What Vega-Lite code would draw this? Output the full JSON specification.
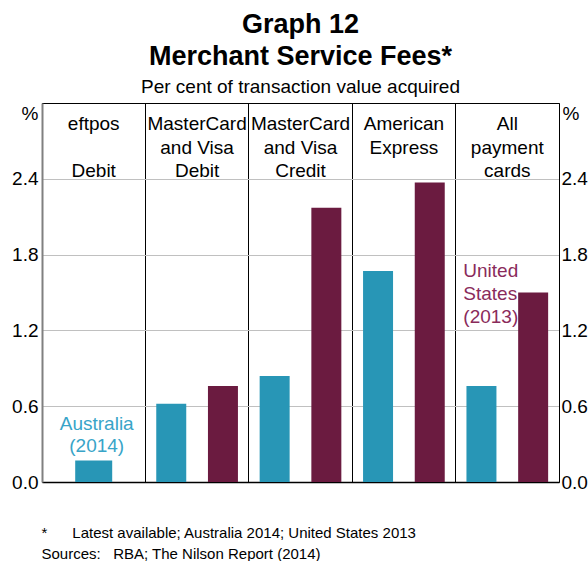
{
  "$schema": "https://vega.github.io/schema/vega-lite/v6.json",
  "width": 517,
  "height": 379,
  "autosize": {"type": "none"},
  "padding": {"left": 42, "top": 103, "right": 29, "bottom": 79},
  "background": "white",
  "config": {"font": "Liberation Sans", "view": {"stroke": "black", "strokeWidth": 1}},
  "title": {
    "text": ["Graph 12", "Merchant Service Fees*"],
    "subtitle": "Per cent of transaction value acquired",
    "fontSize": 27,
    "fontWeight": "bold",
    "lineHeight": 32,
    "color": "black",
    "subtitleFontSize": 19,
    "subtitleColor": "black",
    "subtitlePadding": 7,
    "anchor": "middle",
    "offset": 5,
    "font": "Liberation Sans",
    "subtitleFont": "Liberation Sans"
  },
  "datasets": {
    "fees": [
      {"card": "eftpos Debit", "country": "Australia", "value": 0.17},
      {"card": "MasterCard and Visa Debit", "country": "Australia", "value": 0.62},
      {"card": "MasterCard and Visa Debit", "country": "United States", "value": 0.76},
      {"card": "MasterCard and Visa Credit", "country": "Australia", "value": 0.84},
      {"card": "MasterCard and Visa Credit", "country": "United States", "value": 2.17},
      {"card": "American Express", "country": "Australia", "value": 1.67},
      {"card": "American Express", "country": "United States", "value": 2.37},
      {"card": "All payment cards", "country": "Australia", "value": 0.76},
      {"card": "All payment cards", "country": "United States", "value": 1.5}
    ],
    "headers": [
      {"card": "eftpos Debit", "header": "eftpos\nDebit"},
      {"card": "MasterCard and Visa Debit", "header": "MasterCard\nand Visa\nDebit"},
      {"card": "MasterCard and Visa Credit", "header": "MasterCard\nand Visa\nCredit"},
      {"card": "American Express", "header": "American\nExpress"},
      {"card": "All payment cards", "header": "All\npayment\ncards"}
    ]
  },
  "data": {"name": "fees"},
  "encoding": {
    "x": {
      "field": "card",
      "type": "nominal",
      "scale": {
        "domain": ["eftpos Debit", "MasterCard and Visa Debit", "MasterCard and Visa Credit", "American Express", "All payment cards"],
        "paddingInner": 0,
        "paddingOuter": 0
      },
      "axis": {
        "labels": false,
        "ticks": false,
        "domain": true,
        "domainColor": "black",
        "domainWidth": 1.5,
        "grid": true,
        "gridColor": "black",
        "gridWidth": 1,
        "bandPosition": 0,
        "title": ["*\u00a0\u00a0\u00a0\u00a0\u00a0\u00a0Latest available; Australia 2014; United States 2013", "Sources:\u00a0\u00a0\u00a0RBA; The Nilson Report (2014)"],
        "titleFontSize": 15,
        "titleFontWeight": "normal",
        "titleColor": "black",
        "titleAnchor": "start",
        "titleAlign": "left",
        "titleX": -1,
        "titleY": 55,
        "titleBaseline": "alphabetic",
        "titleLineHeight": 21
      }
    }
  },
  "layer": [
    {
      "transform": [{"filter": "datum.card != 'eftpos Debit'"}],
      "mark": {"type": "bar"},
      "encoding": {
        "y": {
          "field": "value",
          "type": "quantitative",
          "scale": {"domain": [0, 3], "nice": false, "zero": true},
          "axis": {
            "orient": "left",
            "values": [0, 0.6, 1.2, 1.8, 2.4],
            "format": ".1f",
            "labelFontSize": 19,
            "labelColor": "black",
            "ticks": false,
            "labelPadding": 4,
            "domainColor": "#808080",
            "domainWidth": 2,
            "grid": true,
            "gridColor": "#c0c0c0",
            "gridWidth": 1,
            "title": "%",
            "titleAngle": 0,
            "titleFontSize": 19,
            "titleFontWeight": "normal",
            "titleColor": "black",
            "titleX": -4,
            "titleY": 16,
            "titleAlign": "right",
            "titleBaseline": "alphabetic"
          }
        },
        "xOffset": {
          "field": "country",
          "type": "nominal",
          "scale": {"domain": ["Australia", "United States"], "paddingInner": 0.42, "paddingOuter": 0.21}
        },
        "color": {
          "field": "country",
          "type": "nominal",
          "scale": {"domain": ["Australia", "United States"], "range": ["#2896b6", "#6b1b40"]},
          "legend": null
        }
      }
    },
    {
      "transform": [{"filter": "datum.card == 'eftpos Debit'"}],
      "mark": {"type": "bar", "width": 37},
      "encoding": {
        "y": {
          "field": "value",
          "type": "quantitative",
          "axis": {
            "orient": "right",
            "values": [0, 0.6, 1.2, 1.8, 2.4],
            "format": ".1f",
            "labelFontSize": 19,
            "labelColor": "black",
            "ticks": false,
            "labelPadding": 2,
            "domainColor": "black",
            "domainWidth": 1,
            "grid": false,
            "title": "%",
            "titleAngle": 0,
            "titleFontSize": 19,
            "titleFontWeight": "normal",
            "titleColor": "black",
            "titleX": 3,
            "titleY": 16,
            "titleAlign": "left",
            "titleBaseline": "alphabetic"
          }
        },
        "color": {"field": "country", "type": "nominal", "legend": null}
      }
    },
    {
      "data": {"name": "headers"},
      "transform": [{"filter": "datum.card != 'eftpos Debit'"}],
      "mark": {"type": "text", "fontSize": 19, "lineBreak": "\n", "lineHeight": 23.3, "baseline": "alphabetic", "align": "center", "color": "black"},
      "encoding": {
        "y": {"datum": 2.784, "type": "quantitative", "axis": null},
        "text": {"field": "header", "type": "nominal"}
      }
    },
    {
      "data": {"name": "headers"},
      "transform": [{"filter": "datum.card == 'eftpos Debit'"}],
      "mark": {"type": "text", "fontSize": 19, "lineBreak": "\n", "lineHeight": 46.6, "baseline": "alphabetic", "align": "center", "color": "black"},
      "encoding": {
        "y": {"datum": 2.784, "type": "quantitative", "axis": null},
        "text": {"field": "header", "type": "nominal"}
      }
    },
    {
      "data": {"values": [{"label": "Australia\n(2014)"}]},
      "mark": {"type": "text", "fontSize": 19, "lineBreak": "\n", "lineHeight": 22.3, "baseline": "alphabetic", "align": "center", "dx": 3, "color": "#38a4c8"},
      "encoding": {
        "x": {"datum": "eftpos Debit"},
        "y": {"datum": 0.413, "type": "quantitative", "axis": null},
        "text": {"field": "label", "type": "nominal"}
      }
    },
    {
      "data": {"values": [{"label": "United\nStates\n(2013)"}]},
      "mark": {"type": "text", "fontSize": 19, "lineBreak": "\n", "lineHeight": 22.7, "baseline": "alphabetic", "align": "left", "dx": -44, "color": "#8a2b5b"},
      "encoding": {
        "x": {"datum": "All payment cards"},
        "y": {"datum": 1.62, "type": "quantitative", "axis": null},
        "text": {"field": "label", "type": "nominal"}
      }
    }
  ],
  "resolve": {"axis": {"y": "independent"}}
}
